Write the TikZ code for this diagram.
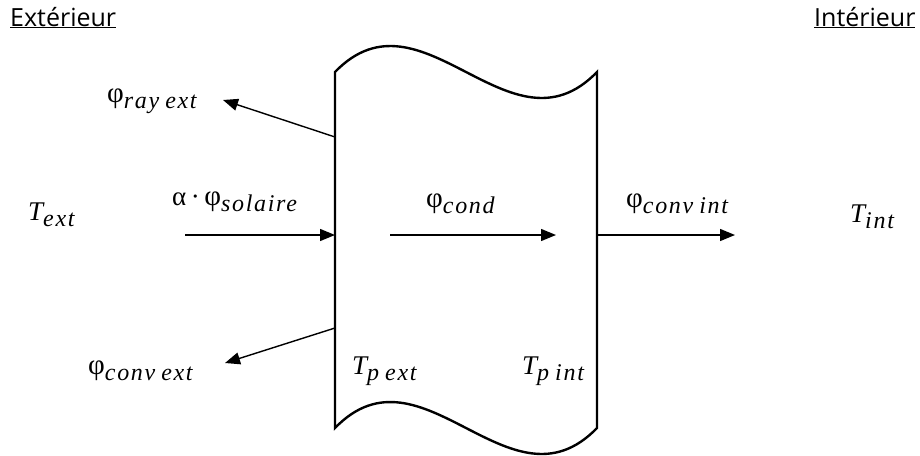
\documentclass[tikz,border=0pt]{standalone}
\usepackage{fontspec}
\setmainfont{Liberation Serif}
\newfontfamily\titlefont{Open Sans}
\newfontfamily\subfont[LetterSpace=7.0]{Liberation Serif}
\usetikzlibrary{arrows.meta}
\newcommand\lowsub[1]{\raisebox{-6pt}{\subfont\fontsize{24}{28}\selectfont\itshape #1}}
\newcommand\subgap{\hspace{6pt}}
\newcommand\phisym{{\fontsize{29}{33}\selectfont φ}}
\begin{document}
\begin{tikzpicture}[x=1pt,y=-1pt,
  flux/.style={line width=1.4pt,-{Triangle[length=15pt,width=12pt]}},
  wallline/.style={line width=2.4pt,line join=miter},
  mlabel/.style={inner sep=0pt,anchor=base west,font=\fontsize{27}{31}\selectfont},
  tlabel/.style={inner sep=0pt,anchor=base west,font=\titlefont\fontsize{25}{30}\selectfont}]
\useasboundingbox (0,0) rectangle (920,455);
% wall
\draw[wallline] (335,72) .. controls (422,-18) and (510,162) .. (597,72)
  -- (597,428) .. controls (510,518) and (422,338) .. (335,428) -- cycle;
% titles
\node[tlabel] (ext) at (10,26) {\underline{Extérieur}};
\node[tlabel] (int) at (814,26) {\underline{Intérieur}};
% labels
\node[mlabel] (ray) at (107,102) {\phisym\lowsub{ray\subgap ext}};
\node[mlabel] (sol) at (172,205) {α\,·\,\phisym\lowsub{solaire}};
\node[mlabel] (text) at (28,220) {\itshape T\lowsub{ext}};
\node[mlabel] (cond) at (426,207) {\phisym\lowsub{cond}};
\node[mlabel] (cint) at (626,207) {\phisym\lowsub{conv\subgap int}};
\node[mlabel] (tint) at (850,222) {\itshape T\lowsub{int}};
\node[mlabel] (cext) at (88,374) {\phisym\lowsub{conv\subgap ext}};
\node[mlabel] (tpext) at (352,374) {\itshape T\lowsub{p\subgap ext}};
\node[mlabel] (tpint) at (522,374) {\itshape T\lowsub{p\subgap int}};
% arrow ends
\coordinate (r0) at (335,137); \coordinate (r1) at (223,100);
\coordinate (s0) at (185,235); \coordinate (s1) at (335,235);
\coordinate (c0) at (390,235); \coordinate (c1) at (556,235);
\coordinate (i0) at (597,235); \coordinate (i1) at (735,235);
\coordinate (e0) at (335,328); \coordinate (e1) at (225,363);
\draw[flux] (r0) -- (r1);
\draw[flux] (s0) -- (s1);
\draw[flux] (c0) -- (c1);
\draw[flux] (i0) -- (i1);
\draw[flux] (e0) -- (e1);
\end{tikzpicture}
\end{document}
